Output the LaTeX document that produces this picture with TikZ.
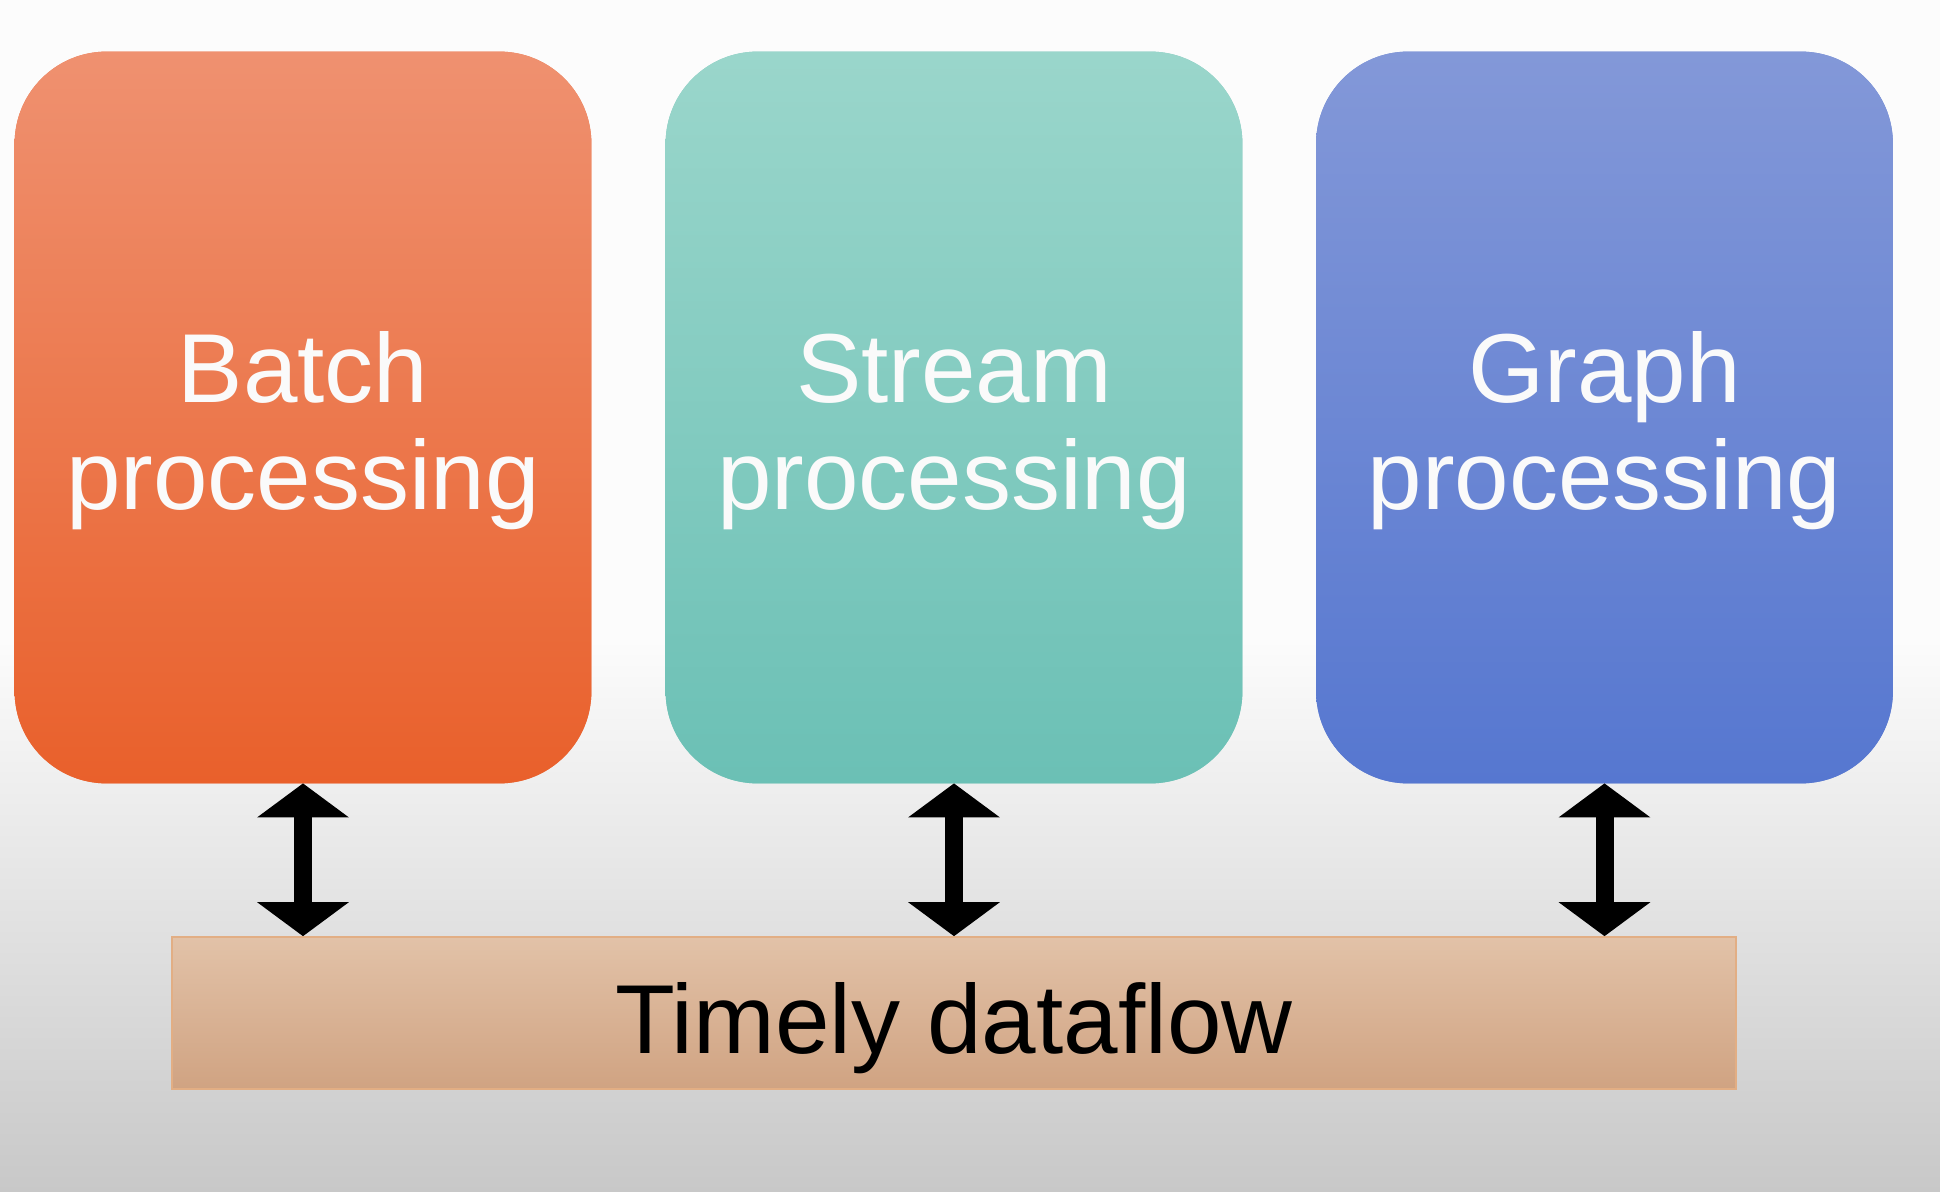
\documentclass[tikz,border=0pt]{standalone}
\usepackage{fontspec}
\setmainfont{Liberation Sans}
\usetikzlibrary{arrows.meta,backgrounds}
\definecolor{bgtop}{HTML}{FCFCFC}
\definecolor{bgbot}{HTML}{C8C8C8}
\definecolor{batchtop}{HTML}{EF9170}
\definecolor{batchbot}{HTML}{E9602B}
\definecolor{streamtop}{HTML}{9AD6CB}
\definecolor{streambot}{HTML}{6BC0B5}
\definecolor{graphtop}{HTML}{8398D8}
\definecolor{graphbot}{HTML}{5677D0}
\definecolor{tdtop}{HTML}{E2C2A8}
\definecolor{tdbot}{HTML}{D0A382}
\definecolor{tdedge}{HTML}{E2AE84}
\definecolor{lbltext}{HTML}{FAFAFA}
\newcommand{\firstline}{\rule{0pt}{48.3pt}}
\begin{document}
\begin{tikzpicture}[x=0.5pt,y=-0.5pt,
  procbox/.style={rectangle, draw=none, inner sep=0pt,
    minimum width=288pt, minimum height=365.5pt, align=center,
    text=lbltext, font=\fontsize{49}{53.5}\selectfont},
  basebox/.style={rectangle, draw=tdedge, line width=0.8pt, inner sep=0pt,
    minimum width=782pt, minimum height=76pt, top color=tdtop, bottom color=tdbot,
    text=black, font=\fontsize{49}{53.5}\selectfont, text height=51pt, text depth=10.3pt},
  link/.style={line width=9pt, draw=black,
    {Triangle[width=45pt 0 0, length=17pt 0 0]}-{Triangle[width=45pt 0 0, length=17pt 0 0]}}
]
\useasboundingbox (0,0) rectangle (1940,1192);

\node[procbox] (batch) at (303,417.5) {\firstline Batch\\processing};
\node[procbox] (stream) at (954,417.5) {\firstline Stream\\processing};
\node[procbox] (graph) at (1604.5,417.5) {\firstline Graph\\processing};

\begin{pgfonlayer}{background}
\fill[bgtop] (0,0) rectangle (1940,640);
\shade[top color=bgtop, bottom color=bgbot] (0,639) rectangle (1940,1192);
\foreach \b/\t/\u in {batch/batchtop/batchbot, stream/streamtop/streambot, graph/graphtop/graphbot}{
  \fill[\t!50!\u, rounded corners=46pt]
    (\b.north) -- (\b.north east) -- (\b.south east) -- (\b.south west)
    -- (\b.north west) -- cycle;
  \shade[top color=\t, bottom color=\u, rounded corners=46pt]
    (\b.north) -- (\b.north east) -- (\b.south east) -- (\b.south west)
    -- (\b.north west) -- cycle;
}
\end{pgfonlayer}

\node[basebox] (timely) at (954,1013) {Timely dataflow};

\draw[link] (batch.south) -- (batch.south |- timely.north);
\draw[link] (stream.south) -- (stream.south |- timely.north);
\draw[link] (graph.south) -- (graph.south |- timely.north);
\end{tikzpicture}
\end{document}
